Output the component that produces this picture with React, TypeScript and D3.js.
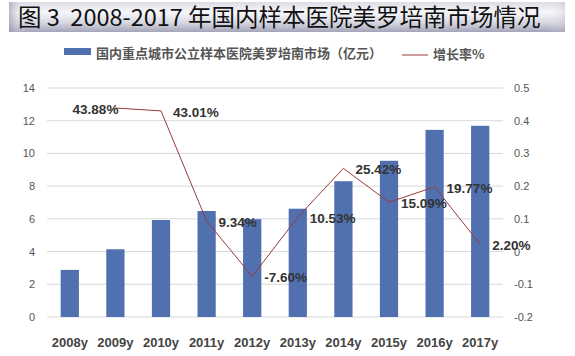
import React from "react";
import * as d3 from "d3";

const categories = ["2008y", "2009y", "2010y", "2011y", "2012y", "2013y", "2014y", "2015y", "2016y", "2017y"];
const marketValues = [2.88, 4.14, 5.93, 6.48, 5.98, 6.62, 8.30, 9.55, 11.44, 11.69];
const growthCats = ["2009y", "2010y", "2011y", "2012y", "2013y", "2014y", "2015y", "2016y", "2017y"];
const growthValues = [0.4388, 0.4301, 0.0934, -0.076, 0.1053, 0.2542, 0.1509, 0.1977, 0.022];
const growthLabels = ["43.88%", "43.01%", "9.34%", "-7.60%", "10.53%", "25.42%", "15.09%", "19.77%", "2.20%"];
const leftTicks = [0, 2, 4, 6, 8, 10, 12, 14];
const rightTicks = [-0.2, -0.1, 0, 0.1, 0.2, 0.3, 0.4, 0.5];
const rightTickLabels = ["-0.2", "-0.1", "0", "0.1", "0.2", "0.3", "0.4", "0.5"];

const title = "图 3  2008-2017 年国内样本医院美罗培南市场情况";
const barLegend = "国内重点城市公立样本医院美罗培南市场（亿元）";
const lineLegend = "增长率%";

const W = 575;
const H = 356;
const FONT = "'Liberation Sans', Arial, 'Noto Sans CJK SC', sans-serif";
const CJK = "'Noto Sans CJK SC', 'Liberation Sans', sans-serif";

export default function App() {
  const x = d3.scaleBand<string>().domain(categories).range([47, 503]).paddingInner(0).paddingOuter(0);
  const yL = d3.scaleLinear().domain([0, 14]).range([317, 88]);
  const yR = d3.scaleLinear().domain([-0.2, 0.5]).range([317, 88]);
  const bw = x.bandwidth() * 0.4;
  const cx = (c: string) => (x(c) as number) + x.bandwidth() / 2;

  const line = d3
    .line<number>()
    .x((_, i) => cx(growthCats[i]))
    .y((d) => yR(d));

  return (
    <svg width={W} height={H} style={{ position: "absolute", left: 0, top: 0, background: "#fff" }}>
      <defs>
        <linearGradient id="tg" x1="0" y1="0" x2="0" y2="1">
          <stop offset="0" stopColor="#dcdce4" />
          <stop offset="0.35" stopColor="#f6f6fa" />
          <stop offset="0.7" stopColor="#d6d6e0" />
          <stop offset="1" stopColor="#a4a4ba" />
        </linearGradient>
        <linearGradient id="tgh" x1="0" y1="0" x2="1" y2="0">
          <stop offset="0" stopColor="#9090a8" stopOpacity="0.6" />
          <stop offset="0.03" stopColor="#ffffff" stopOpacity="0" />
          <stop offset="0.97" stopColor="#ffffff" stopOpacity="0" />
          <stop offset="1" stopColor="#b0b0c0" stopOpacity="0.3" />
        </linearGradient>
      </defs>
      <rect x={0} y={0} width={W} height={H} fill="#fff" />
      <rect x={9} y={2} width={556} height={30} fill="url(#tg)" />
      <rect x={9} y={2} width={556} height={30} fill="url(#tgh)" />
      <text x={18} y={26} fontFamily={CJK} fontSize={23.5} fill="#111" style={{ whiteSpace: "pre" }}>
        {title}
      </text>

      {/* legend */}
      <rect x={64} y={48} width={27} height={7} fill="#5070b0" />
      <text x={96} y={58} fontFamily={CJK} fontSize={13} fontWeight="bold" fill="#555">
        {barLegend}
      </text>
      <line x1={402} x2={428} y1={55} y2={55} stroke="#9a3a3a" strokeWidth={1} />
      <text x={433} y={59} fontFamily={CJK} fontSize={13} fontWeight="bold" fill="#555">
        {lineLegend}
      </text>

      {/* grid */}
      {leftTicks.map((t) => (
        <line key={"g" + t} x1={47} x2={503} y1={yL(t)} y2={yL(t)} stroke="#d9d9d9" strokeWidth={1} />
      ))}
      {leftTicks.map((t) => (
        <text key={"l" + t} x={35} y={yL(t) + 4} textAnchor="end" fontFamily={FONT} fontSize={11} fill="#555">
          {t}
        </text>
      ))}
      {rightTicks.map((t, i) => (
        <text key={"r" + t} x={514} y={yR(t) + 4} textAnchor="start" fontFamily={FONT} fontSize={11} fill="#555">
          {rightTickLabels[i]}
        </text>
      ))}

      {/* bars */}
      {categories.map((c, i) => (
        <rect
          key={c}
          x={cx(c) - bw / 2}
          y={yL(marketValues[i])}
          width={bw}
          height={yL(0) - yL(marketValues[i])}
          fill="#5070b0"
        />
      ))}

      {/* x labels */}
      {categories.map((c) => (
        <text key={"x" + c} x={cx(c)} y={347} textAnchor="middle" fontFamily={FONT} fontSize={13} fontWeight="bold" fill="#444">
          {c}
        </text>
      ))}

      {/* growth line */}
      <path d={line(growthValues) || ""} fill="none" stroke="#9a3a3a" strokeWidth={1} />

      {growthValues.map((v, i) => {
        const px = cx(growthCats[i]);
        const py = yR(v);
        const first = i === 0;
        return (
          <text
            key={"d" + i}
            x={first ? px + 3 : px + 12}
            y={py + 6}
            textAnchor={first ? "end" : "start"}
            fontFamily={FONT}
            fontSize={13.5}
            fontWeight="bold"
            fill="#333"
          >
            {growthLabels[i]}
          </text>
        );
      })}
    </svg>
  );
}
